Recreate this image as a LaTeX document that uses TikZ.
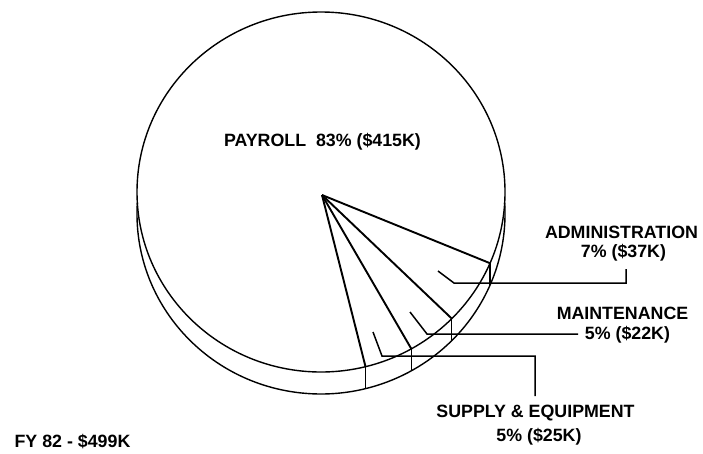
\documentclass[tikz,border=0pt]{standalone}
\usepackage{fontspec}
\setmainfont{Liberation Sans}
\usetikzlibrary{calc}
\begin{document}
\begin{tikzpicture}[x=1pt,y=1pt,
  rim/.style={line width=1.4pt},
  slice/.style={line width=1.9pt, line join=round},
  leader/.style={line width=1.5pt},
  lbl/.style={font=\fontsize{17.8}{20}\selectfont\bfseries, inner sep=0pt, align=center}]
\useasboundingbox[fill=white] (0,0) rectangle (703,-453);
% geometry
\coordinate (C) at (321,-192);
\coordinate (CL) at (321,-214);
\coordinate (A) at (322,-195);
% top face
\draw[rim] (C) ellipse [x radius=184pt, y radius=180pt];
% lower rim
\draw[rim] (CL) ++(176.5:184 and 180) arc [start angle=176.5, end angle=363.5, x radius=184pt, y radius=180pt];
% slice boundaries
\foreach \t/\n in {-23.3/p1,-44.7/p2,-60.6/p3,-76/p4}{
  \coordinate (\n) at ($(C)+(\t:184 and 180)$);
  \coordinate (\n b) at ($(CL)+(\t:184 and 180)$);
  \draw[slice] (A) -- (\n);
  \draw[rim] (\n) -- (\n b);
}
% leaders
\coordinate (la1) at (438,-271);
\coordinate (la2) at (454,-283);
\coordinate (la3) at (626,-283);
\coordinate (la4) at (626,-269);
\draw[leader] (la1) -- (la2) -- (la3) -- (la4);
\coordinate (lm1) at (410,-312);
\coordinate (lm2) at (427,-334);
\coordinate (lm3) at (578,-334);
\draw[leader] (lm1) -- (lm2) -- (lm3);
\coordinate (ls1) at (373,-332);
\coordinate (ls2) at (382,-356);
\coordinate (ls3) at (535,-356);
\coordinate (ls4) at (535,-396);
\draw[leader] (ls1) -- (ls2) -- (ls3) -- (ls4);
% labels
\node[lbl] (pay) at (322.5,-142) {PAYROLL\ \ 83\% (\$415K)};
\node[lbl] (adm) at (621.5,-232) {ADMINISTRATION};
\node[lbl] (admv) at (623.5,-253) {7\% (\$37K)};
\node[lbl] (mnt) at (622.5,-313) {MAINTENANCE};
\node[lbl] (mntv) at (627.5,-335) {5\% (\$22K)};
\node[lbl] (sup) at (535.5,-413) {SUPPLY \& EQUIPMENT};
\node[lbl] (supv) at (539,-437) {5\% (\$25K)};
\node[lbl] (fy) at (72.5,-442) {FY 82 - \$499K};
\end{tikzpicture}
\end{document}
